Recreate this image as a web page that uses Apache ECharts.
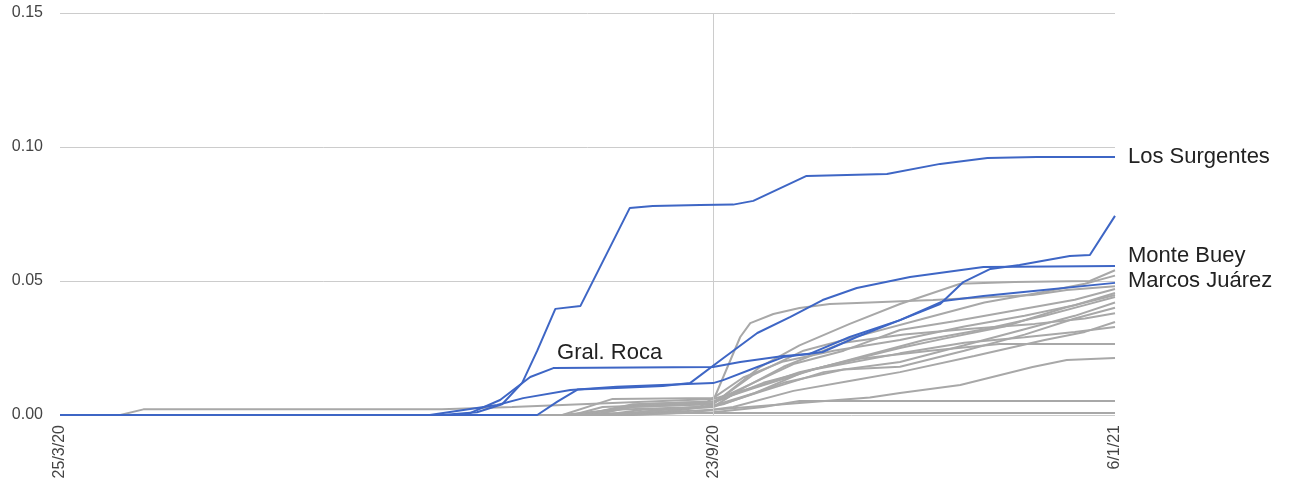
<!DOCTYPE html>
<html>
<head>
<meta charset="utf-8">
<script src="https://cdn.jsdelivr.net/npm/echarts@6/dist/echarts.min.js"></script>
<style>
html,body{margin:0;padding:0;background:#fff;}
#chart{width:1292px;height:484px;}
</style>
</head>
<body>
<div id="chart"></div>
<script>
// x = position along the date axis (0 = 25/3/20, 65 = 23/9/20, 105 = 6/1/21)
const xTickValues = [0, 65, 105];
const xTickLabels = ['25/3/20', '23/9/20', '6/1/21'];
const yTicks = [0, 0.05, 0.10, 0.15];

// highlighted towns
const losSurgentes = [[0,0],[38,0],[41.5,0.001],[44,0.004],[46,0.012],[47.5,0.024],[49.3,0.0396],[51.8,0.0407],[56.7,0.0772],[59,0.0780],[63.7,0.0784],[67,0.0785],[69,0.0799],[74.3,0.0892],[82.3,0.0899],[87.6,0.0937],[92.3,0.0959],[97.2,0.0963],[105,0.0963]];
const gralRoca = [[0,0],[39,0],[40.8,0.0007],[43.8,0.0056],[46.8,0.0142],[49.1,0.0175],[65,0.0179],[67.7,0.0198],[72,0.022],[74.6,0.0228],[78.6,0.0291],[83.6,0.0354],[87.6,0.0414],[89.9,0.0496],[92.6,0.0545],[95.5,0.056],[100.5,0.0593],[102.5,0.0597],[105,0.0743]];
const monteBuey = [[0,0],[47.5,0],[49.5,0.005],[51.5,0.0095],[56,0.0102],[60,0.0108],[62.7,0.0119],[66,0.0212],[69.4,0.0306],[72.7,0.0366],[75.9,0.0429],[79.3,0.0474],[84.6,0.0515],[91.9,0.0552],[105,0.0556]];
const marcosJuarez = [[0,0],[36.8,0],[43.5,0.0037],[46.1,0.0063],[50.8,0.0093],[55.4,0.0105],[65,0.0119],[66,0.013],[69.4,0.0179],[72,0.0216],[75.9,0.0235],[79.3,0.0291],[83.6,0.0354],[87.9,0.0425],[91.9,0.0444],[96.9,0.0463],[105,0.0493]];

// other towns
const g01 = [[0,0],[6,0],[8.3,0.0021],[38,0.0021],[45,0.003],[55,0.0045],[65,0.006],[69.7,0.011],[73.6,0.016],[79.6,0.021],[86.6,0.024],[93.5,0.0265],[105,0.0265]];
const g02 = [[0,0],[50,0],[55,0.002],[63.7,0.003],[65.2,0.007],[67.7,0.0291],[68.7,0.0343],[71,0.0377],[73.6,0.0399],[76.6,0.0414],[79.3,0.0418],[86.9,0.0429],[96.8,0.0448],[100.2,0.0466],[105,0.048]];
const g03 = [[0,0],[52,0],[56,0.003],[65,0.004],[69.7,0.018],[73.6,0.026],[78.6,0.034],[83.6,0.0414],[89.6,0.049],[95,0.0496],[102.5,0.050],[105,0.054]];
const g04 = [[0,0],[54,0],[60,0.001],[65,0.002],[72,0.004],[80.6,0.0065],[83.6,0.0082],[89.6,0.0112],[96.8,0.0179],[100.2,0.0205],[105,0.0213]];
const g05 = [[0,0],[55,0],[65,0.001],[70,0.003],[73.6,0.0052],[105,0.0052]];
const g06 = [[0,0],[50,0],[56,0.0007],[105,0.0007]];
const g07 = [[0,0],[53,0],[58,0.004],[65,0.005],[69,0.012],[73,0.019],[78,0.024],[83.6,0.0317],[89,0.035],[95,0.039],[101,0.043],[105,0.047]];
const g08 = [[0,0],[50,0],[55,0.006],[65,0.0063],[68,0.014],[72,0.02],[77,0.024],[83.6,0.028],[90,0.033],[96,0.037],[101,0.041],[105,0.0455]];
const g09 = [[0,0],[51,0],[54,0.003],[65,0.0045],[70,0.012],[76,0.018],[83.6,0.025],[88,0.0285],[94,0.033],[100,0.04],[105,0.0448]];
const g10 = [[0,0],[55,0],[60,0.002],[65,0.003],[70,0.009],[76,0.016],[83.6,0.0198],[90,0.026],[96,0.032],[101,0.037],[105,0.042]];
const g11 = [[0,0],[56,0],[62,0.002],[66,0.004],[72,0.012],[78,0.017],[83.6,0.018],[90,0.024],[96,0.03],[101,0.036],[105,0.040]];
const g12 = [[0,0],[57,0],[63,0.001],[67,0.003],[73,0.009],[79,0.013],[83.6,0.016],[91,0.022],[98,0.028],[102,0.031],[105,0.0347]];
const g13 = [[0,0],[52,0],[57,0.004],[65,0.005],[69,0.01],[75,0.017],[83.6,0.023],[90,0.027],[96,0.029],[101,0.031],[105,0.0328]];
const g14 = [[0,0],[54,0],[58,0.002],[65,0.003],[68,0.01],[72,0.018],[78,0.027],[84,0.03],[90,0.032],[97,0.034],[102,0.036],[105,0.038]];
const g15 = [[0,0],[53,0],[57,0.003],[65,0.0042],[69,0.015],[74,0.024],[80,0.03],[86,0.036],[92,0.042],[98,0.046],[102,0.049],[105,0.052]];
const g16 = [[0,0],[55,0],[60,0.002],[65,0.0035],[69,0.008],[74,0.016],[80,0.022],[86,0.028],[92,0.032],[98,0.037],[102,0.041],[105,0.044]];

const grayData = [g01,g02,g03,g04,g05,g06,g07,g08,g09,g10,g11,g12,g13,g14,g15,g16];

const BLUE = '#3e66c5';
const GRAY = '#a8a8a8';
const FONT = '"Liberation Sans", Arial, sans-serif';

const series = [];
grayData.forEach((d, i) => {
  series.push({
    name: 'otro' + (i + 1), type: 'line', data: d, symbol: 'none', silent: true,
    lineStyle: { color: GRAY, width: 2 }, z: 2
  });
});
// vertical grid line at 23/9/20
series[0].markLine = {
  silent: true, symbol: 'none', label: { show: false },
  lineStyle: { color: '#cccccc', width: 1, type: 'solid' },
  data: [{ xAxis: xTickValues[1] }]
};

function blue(name, data, labelOffset) {
  const s = {
    name: name, type: 'line', data: data, symbol: 'none', silent: true,
    lineStyle: { color: BLUE, width: 2 }, z: 5
  };
  if (labelOffset) {
    s.endLabel = {
      show: true, formatter: '{a}', distance: 13, offset: labelOffset,
      fontFamily: FONT, fontSize: 22, color: '#222'
    };
  }
  return s;
}
series.push(blue('Gral. Roca', gralRoca, null));
series.push(blue('Marcos Juárez', marcosJuarez, [0, -2]));
series.push(blue('Monte Buey', monteBuey, [0, -10]));
series.push(blue('Los Surgentes', losSurgentes, [0, 0]));
// inside label for Gral. Roca
series[series.length - 4].markPoint = {
  silent: true, symbol: 'circle', symbolSize: 1,
  itemStyle: { color: 'rgba(0,0,0,0)' },
  label: { show: true, position: 'inside', formatter: 'Gral. Roca', fontFamily: FONT, fontSize: 22, color: '#222' },
  data: [{ coord: [54.7, 0.0231] }]
};

const chart = echarts.init(document.getElementById('chart'), null, { renderer: 'canvas' });
chart.setOption({
  animation: false,
  backgroundColor: '#ffffff',
  grid: { left: 60, right: 177, top: 13, bottom: 69, containLabel: false, outerBoundsMode: 'none' },
  xAxis: {
    type: 'value', min: 0, max: 105,
    axisLine: { show: false }, axisTick: { show: false }, splitLine: { show: false },
    axisLabel: {
      customValues: xTickValues,
      rotate: 90, margin: 10,
      fontFamily: FONT, fontSize: 16, color: '#444',
      showMinLabel: true, showMaxLabel: true,
      formatter: v => { const i = xTickValues.indexOf(v); return i >= 0 ? xTickLabels[i] : ''; }
    }
  },
  yAxis: {
    type: 'value', min: yTicks[0], max: yTicks[yTicks.length - 1], interval: 0.05,
    axisLine: { show: false }, axisTick: { show: false },
    splitLine: { lineStyle: { color: '#cccccc', width: 1 } },
    axisLabel: { margin: 17, fontFamily: FONT, fontSize: 16, color: '#444', formatter: v => v.toFixed(2) }
  },
  series: series
});
</script>
</body>
</html>
